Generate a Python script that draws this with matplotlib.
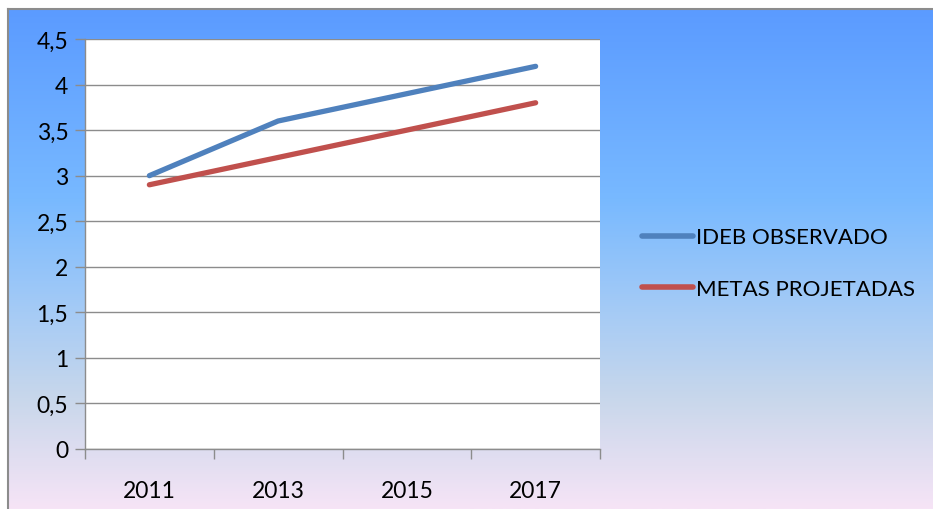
import matplotlib
matplotlib.use("Agg")
import matplotlib.pyplot as plt
import numpy as np
from matplotlib.colors import LinearSegmentedColormap

years = ["2011", "2013", "2015", "2017"]
ideb_observado = [3.0, 3.6, 3.9, 4.2]
metas_projetadas = [2.9, 3.2, 3.5, 3.8]
yticks = [0, 0.5, 1, 1.5, 2, 2.5, 3, 3.5, 4, 4.5]
ytick_labels = ["0", "0,5", "1", "1,5", "2", "2,5", "3", "3,5", "4", "4,5"]

plt.rcParams['font.family'] = ['Lato', 'DejaVu Sans']

W, H = 933, 510
fig = plt.figure(figsize=(W / 100, H / 100), dpi=100, facecolor="white")

# gradient background frame
bx0, by1 = 8 / W, 1 - 10 / H
bg = fig.add_axes([bx0, 0, 1 - bx0, by1])
stops = [(0.0, (91, 155, 255)), (0.38, (120, 185, 255)), (0.62, (168, 204, 245)),
         (0.78, (200, 215, 235)), (1.0, (246, 228, 246))]
cmap = LinearSegmentedColormap.from_list("g", [(p, tuple(c / 255 for c in col)) for p, col in stops])
grad = np.linspace(0, 1, 512).reshape(-1, 1)
bg.imshow(grad, aspect="auto", cmap=cmap, extent=[0, 1, 0, 1], origin="upper")
bg.set_xlim(0, 1); bg.set_ylim(0, 1)
bg.set_xticks([]); bg.set_yticks([])
for s in ["right", "bottom"]:
    bg.spines[s].set_visible(False)
for s in ["left", "top"]:
    bg.spines[s].set_color("#8c8c8c")
    bg.spines[s].set_linewidth(1.5)

ax = fig.add_axes([85 / W, (H - 450) / H, (600 - 85) / W, (450 - 40) / H])
ax.set_facecolor("white")
x = np.arange(len(years))
ax.plot(x, ideb_observado, color="#4F81BD", lw=3.8, solid_capstyle="round", label="IDEB OBSERVADO")
ax.plot(x, metas_projetadas, color="#C0504D", lw=3.8, solid_capstyle="round", label="METAS PROJETADAS")
ax.set_xlim(-0.5, len(years) - 0.5)
ax.set_ylim(0, 4.5)
ax.set_yticks(yticks)
ax.set_yticklabels(ytick_labels)
ax.yaxis.grid(True, color="#8c8c8c", lw=1)
ax.set_axisbelow(True)
ax.set_xticks(x)
ax.set_xticklabels(years)
ax.set_xticks(np.arange(-0.5, len(years)), minor=True)
ax.tick_params(axis="x", which="major", length=0, pad=22, labelsize=16.5)
ax.tick_params(axis="x", which="minor", length=7, color="#8c8c8c", width=1)
ax.tick_params(axis="y", length=7, color="#8c8c8c", width=1, labelsize=16.5, pad=5)
for s in ["top", "right"]:
    ax.spines[s].set_visible(False)
for s in ["left", "bottom"]:
    ax.spines[s].set_color("#8c8c8c")
    ax.spines[s].set_linewidth(1)

leg = fig.legend(loc="center left", bbox_to_anchor=(622 / W, 1 - 264 / H), frameon=False,
                 fontsize=16, handlelength=2.3, handletextpad=0.15, labelspacing=1.4)
for line in leg.get_lines():
    line.set_linewidth(4)

fig.savefig("out.png", dpi=100, facecolor="white")
